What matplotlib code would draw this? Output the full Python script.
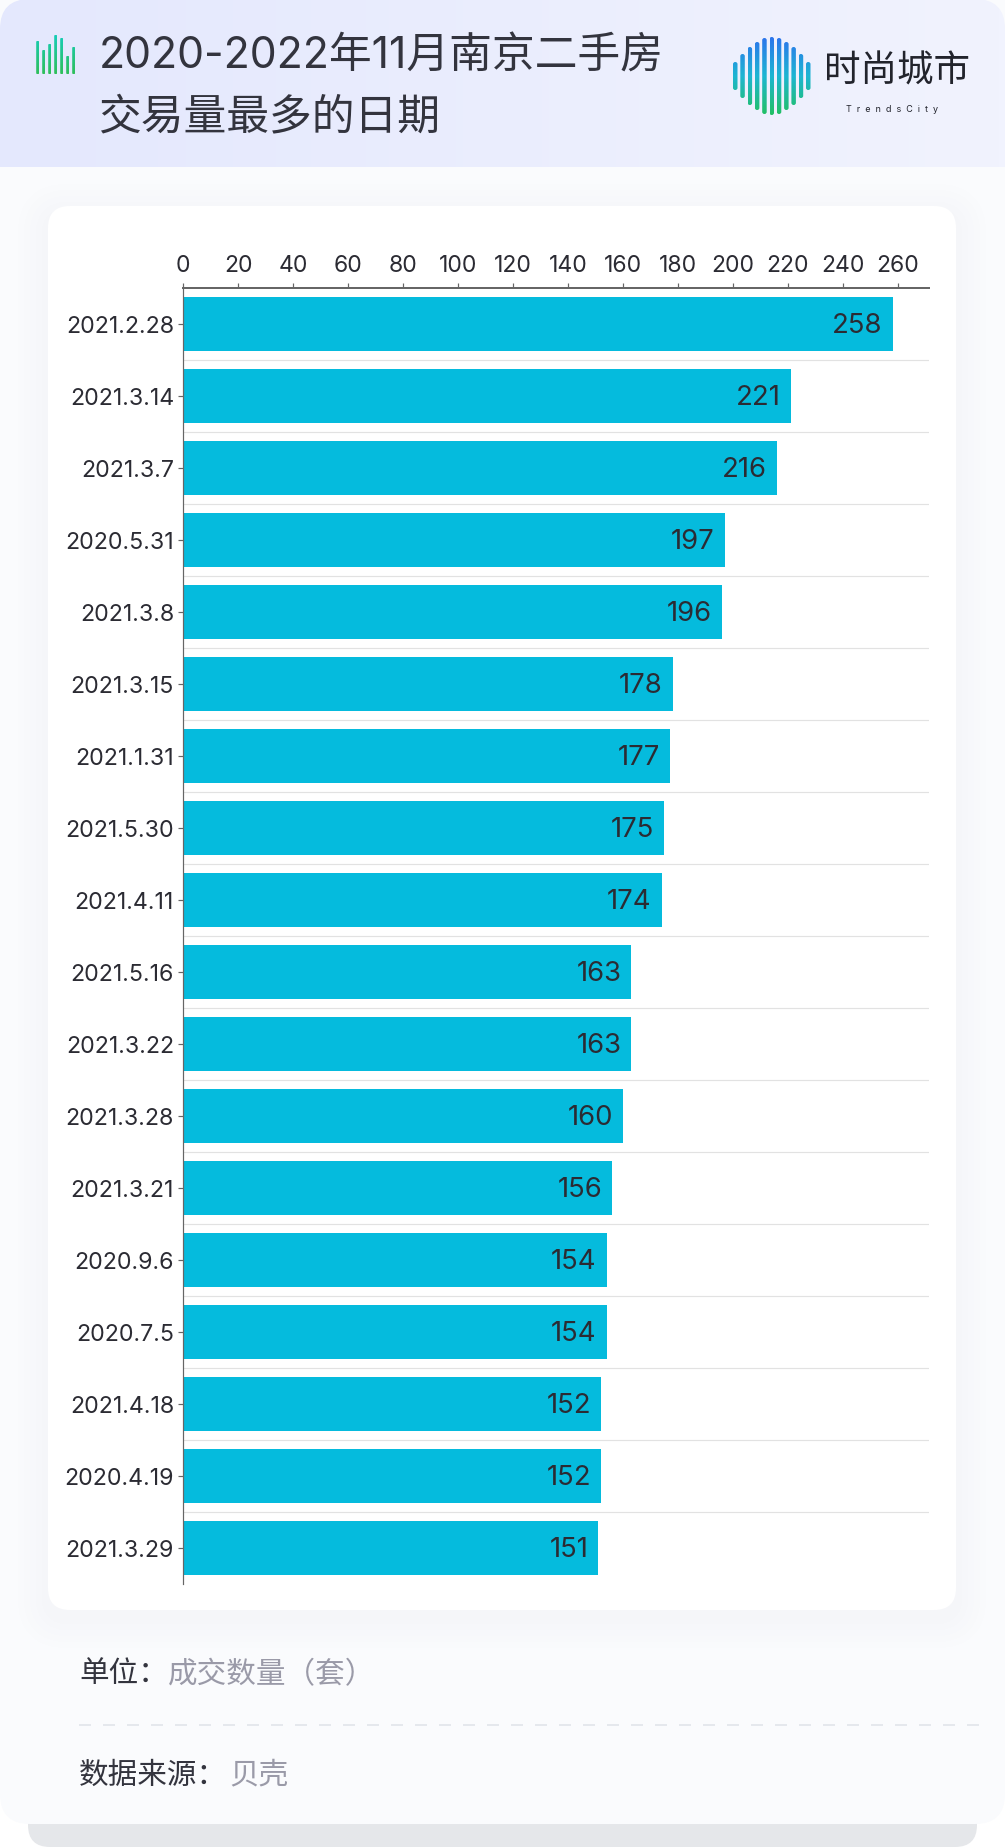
import numpy as np
import matplotlib
matplotlib.use('Agg')
import matplotlib.pyplot as plt
from matplotlib.colors import LinearSegmentedColormap
from matplotlib.patches import FancyBboxPatch

plt.rcParams['font.family'] = ['Inter', 'Noto Sans CJK SC', 'DejaVu Sans']

dates = ['2021.2.28', '2021.3.14', '2021.3.7', '2020.5.31', '2021.3.8', '2021.3.15',
         '2021.1.31', '2021.5.30', '2021.4.11', '2021.5.16', '2021.3.22', '2021.3.28',
         '2021.3.21', '2020.9.6', '2020.7.5', '2021.4.18', '2020.4.19', '2021.3.29']
deals = [258, 221, 216, 197, 196, 178, 177, 175, 174, 163, 163, 160, 156, 154, 154, 152, 152, 151]
xticks = list(range(0, 261, 20))

title_lines = ['2020-2022年11月南京二手房', '交易量最多的日期']
icon_heights = [33, 24, 30, 39, 36, 18, 27]
logo_heights = [28, 44, 58, 68, 76, 78, 76, 68, 58, 44, 28]
shadow_colors = ['#f9fafc', '#f8f9fb', '#f7f8fb', '#f6f7fa', '#f5f6f9']

W, H = 1005, 1849
PX = 72 / 100  # one pixel in points at dpi 100


def rounded(x0, y0, x1, y1, r, **kw):
    return FancyBboxPatch((x0 + r, y0 + r), x1 - x0 - 2 * r, y1 - y0 - 2 * r,
                          boxstyle='round,pad=%f,rounding_size=%f' % (r, r), lw=0, **kw)


def gradient(ax, extent, colors, clip, vertical=True, zorder=6):
    # colors go from the top (or the left) of the extent
    cmap = LinearSegmentedColormap.from_list('g', colors)
    ramp = np.linspace(0, 1, 256)
    ramp = ramp[:, None] if vertical else ramp[None, :]
    im = ax.imshow(ramp, extent=extent, cmap=cmap, aspect='auto', zorder=zorder, interpolation='bilinear')
    im.set_clip_path(clip)


fig = plt.figure(figsize=(W / 100, H / 100), dpi=100, facecolor='white')

# background layer, in pixel coordinates
bg = fig.add_axes([0, 0, 1, 1])
bg.set_axis_off()

bg.add_patch(rounded(28, 1780, 977, 1848, 22, color='#e5e7ea', zorder=1))
bg.add_patch(rounded(0, -40, W, 1825, 30, color='#fafbfd', zorder=2))

head_clip = rounded(0, 0, W, 240, 30, transform=bg.transData)
gradient(bg, (0, W, 168, 0), ['#e4e8fd', '#f1f3fe'], head_clip, vertical=False, zorder=3)

# soft shadow, plain steps because very low alpha bands badly, then white card
for i, c in enumerate(shadow_colors):
    g = 30 - 6 * i
    bg.add_patch(rounded(48 - g, 207 - g + 8, 956 + g, 1611 + g + 8, 22 + g, color=c, zorder=4))
bg.add_patch(rounded(48, 207, 956, 1611, 22, color='white', zorder=5))

# header icon
for i, h in enumerate(icon_heights):
    x0 = 36.2 + i * 6
    clip = rounded(x0, 75 - h, x0 + 3, 75, 1, transform=bg.transData)
    gradient(bg, (x0, x0 + 3, 75, 36), ['#16cdb8', '#2fbf5a'], clip)

# logo
for i, h in enumerate(logo_heights):
    x0 = 733 + i * 7.3
    y0 = 77 - h / 2
    clip = rounded(x0, y0, x0 + 4.5, y0 + h, 2.2, transform=bg.transData)
    gradient(bg, (x0, x0 + 4.5, 116, 38), ['#2c74ec', '#1db6d2', '#22c063'], clip)

bg.text(824, 71, '时尚城市', fontsize=36.5 * PX, color='#22242c', va='center', ha='left', zorder=7)
bg.text(846, 109, 'T  r  e  n  d  s  C  i  t  y', fontsize=9 * PX, color='#22242c', va='center', ha='left', zorder=7)

for i, line in enumerate(title_lines):
    bg.text(99, 57 + i * 61, line, fontsize=42.8 * PX, color='#33343e', va='center', ha='left', zorder=7)

bg.text(79, 1675, '单位：', fontsize=29.6 * PX, color='#33343e', va='center', ha='left', zorder=7)
bg.text(168, 1675, '成交数量（套）', fontsize=29.6 * PX, color='#9a9aa8', va='center', ha='left', zorder=7)
bg.text(79, 1776, '数据来源：', fontsize=29.6 * PX, color='#33343e', va='center', ha='left', zorder=7)
bg.text(229, 1776, '贝壳', fontsize=29.6 * PX, color='#9a9aa8', va='center', ha='left', zorder=7)
bg.plot([79, 980], [1726, 1726], color='#dfe2e8', lw=1.5 * PX, dashes=(8, 8), zorder=7)

bg.set_xlim(0, W)
bg.set_ylim(H, 0)

# chart layer
left, right, top, bottom = 183, 929.3, 288.5, 1584.5
ax = fig.add_axes([left / W, 1 - bottom / H, (right - left) / W, (bottom - top) / H])
ax.patch.set_alpha(0)

pos = np.arange(len(dates))
ax.hlines(pos[:-1] + 0.5, 0, 1, transform=ax.get_yaxis_transform(), color='#e2e2e2', lw=1.2 * PX, zorder=1)
ax.barh(pos, deals, height=0.75, color='#05bbdd', zorder=2)
for p, v in zip(pos, deals):
    ax.text(v - 3.6, p + 0.02, str(v), ha='right', va='center', fontsize=27.5 * PX, color='#2b2b33', zorder=3)

ax.set_xlim(0, (right - left) / 2.75)
ax.set_ylim(len(dates) - 0.5, -0.5)
ax.xaxis.tick_top()
ax.set_xticks(xticks)
ax.set_yticks(pos)
ax.set_yticklabels(dates)
ax.tick_params(axis='x', length=5 * PX, width=1.2 * PX, color='#666666', labelsize=23 * PX, labelcolor='#2b2b33', pad=6 * PX)
ax.tick_params(axis='y', length=5 * PX, width=1.2 * PX, color='#666666', labelsize=23.2 * PX, labelcolor='#2b2b33', pad=4 * PX)
for s in ['right', 'bottom']:
    ax.spines[s].set_visible(False)
ax.spines['top'].set_color('#666666')
ax.spines['top'].set_linewidth(2 * PX)
ax.spines['left'].set_color('#666666')
ax.spines['left'].set_linewidth(1.2 * PX)

fig.savefig('out.png', dpi=100)
